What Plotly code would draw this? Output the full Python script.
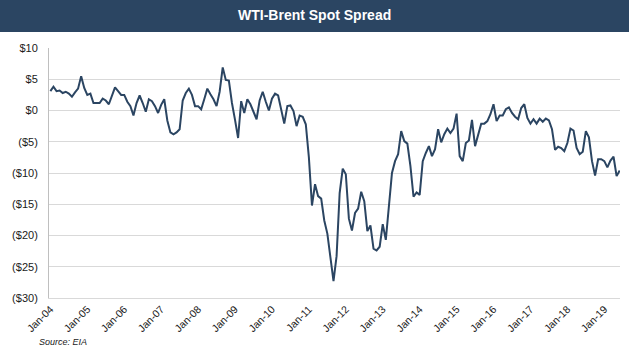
import plotly.graph_objects as go

# Monthly WTI-Brent spot spread ($/bbl), Jan-2004 .. Jun-2019
spread_2004 = [3.1, 3.8, 3.1, 3.2, 2.8, 3.0, 2.7, 2.2, 2.9, 3.5, 5.5, 3.6]
spread_2005 = [2.5, 2.7, 1.2, 1.2, 1.2, 1.9, 1.6, 1.0, 2.5, 3.7, 3.1, 2.5]
spread_2006 = [2.5, 1.4, 0.7, -0.8, 1.2, 2.4, 1.2, -0.2, 1.8, 1.5, 0.7, -0.4]
spread_2007 = [0.9, 1.8, -1.6, -3.5, -3.8, -3.5, -3.0, 1.6, 2.8, 3.5, 2.5, 0.7]
spread_2008 = [0.7, 0.2, 1.8, 3.5, 2.6, 1.8, 0.7, 3.0, 6.9, 4.9, 4.8, 1.2]
spread_2009 = [-1.5, -4.4, 1.5, -0.4, 1.8, 1.0, -0.2, -1.4, 1.6, 3.0, 1.4, 0.0]
spread_2010 = [1.9, 2.7, 2.4, 0.2, -2.1, 0.7, 0.8, -0.1, -2.5, -0.8, -1.0, -2.2]
spread_2011 = [-7.5, -15.2, -11.8, -13.7, -14.1, -17.6, -19.7, -23.5, -27.3, -23.3, -13.2, -9.3]
spread_2012 = [-10.2, -17.3, -19.2, -16.4, -15.7, -13.0, -14.5, -19.3, -18.4, -22.1, -22.4, -21.8]
spread_2013 = [-18.2, -20.7, -15.5, -10.0, -8.1, -7.0, -3.3, -4.9, -5.3, -8.9, -13.8, -13.1]
spread_2014 = [-13.5, -8.1, -6.8, -5.7, -7.3, -6.2, -3.0, -5.1, -3.8, -2.9, -3.6, -2.9]
spread_2015 = [-0.5, -7.3, -8.1, -5.2, -4.8, -1.5, -5.7, -4.1, -2.1, -2.1, -1.7, -0.6]
spread_2016 = [1.0, -1.7, -0.8, -0.8, 0.2, 0.5, -0.4, -1.0, -1.4, 0.4, 1.0, -1.2]
spread_2017 = [-2.1, -1.4, -2.1, -1.3, -1.8, -1.3, -1.6, -3.0, -6.3, -5.8, -6.0, -6.5]
spread_2018 = [-5.2, -2.9, -3.2, -6.0, -7.0, -6.6, -3.3, -4.3, -8.1, -10.4, -7.8, -7.8]
spread_2019 = [-8.1, -9.1, -8.0, -7.4, -10.5, -9.6]

years = list(range(2004, 2020))
yearly = [spread_2004, spread_2005, spread_2006, spread_2007, spread_2008, spread_2009,
          spread_2010, spread_2011, spread_2012, spread_2013, spread_2014, spread_2015,
          spread_2016, spread_2017, spread_2018, spread_2019]

month_names = ["Jan", "Feb", "Mar", "Apr", "May", "Jun",
               "Jul", "Aug", "Sep", "Oct", "Nov", "Dec"]
categories = []
values = []
for yr, vals in zip(years, yearly):
    for m, v in enumerate(vals):
        categories.append(f"{month_names[m]}-{str(yr)[2:]}")
        values.append(v)

x_idx = list(range(len(values)))
tick_labels = [f"Jan-{str(y)[2:]}" for y in years]
tick_positions = [categories.index(t) for t in tick_labels]

y_tick_vals = [10, 5, 0, -5, -10, -15, -20, -25, -30]
y_tick_text = ["$10", "$5", "$0", "($5)", "($10)", "($15)", "($20)", "($25)", "($30)"]

navy = "#2B4562"
grid = "#D9D9D9"

fig = go.Figure()
fig.add_trace(go.Scatter(
    x=x_idx, y=values, mode="lines",
    line=dict(color=navy, width=2),
    customdata=categories,
    hovertemplate="%{customdata}: %{y}<extra></extra>",
    showlegend=False,
))

W, H = 629, 361
L, R, T, B = 49, 9, 48, 63
pw, ph = W - L - R, H - T - B

fig.update_layout(
    width=W, height=H,
    margin=dict(l=L, r=R, t=T, b=B, pad=0),
    paper_bgcolor="white", plot_bgcolor="white",
    font=dict(family="Liberation Sans, Arial, sans-serif", size=11, color="#1a1a1a"),
    xaxis=dict(
        range=[-0.45, len(values) - 0.9],
        tickmode="array", tickvals=tick_positions, ticktext=tick_labels,
        tickangle=-45, tickfont=dict(size=10.5),
        showgrid=False, showline=True, linecolor=grid, linewidth=1,
        ticks="", zeroline=False,
    ),
    yaxis=dict(
        range=[-30, 10],
        tickmode="array", tickvals=y_tick_vals, ticktext=y_tick_text,
        tickfont=dict(size=11),
        showgrid=True, gridcolor=grid, gridwidth=1,
        showline=True, linecolor="#BFBFBF", linewidth=1,
        zeroline=False, ticks="", ticklabelstandoff=8,
    ),
    shapes=[dict(
        type="rect", xref="paper", yref="paper",
        x0=-L / pw, x1=1 + R / pw,
        y0=1 + (T - 32) / ph, y1=1 + T / ph,
        fillcolor=navy, line=dict(width=0), layer="above",
    )],
    annotations=[
        dict(text="<b>WTI-Brent Spot Spread</b>", xref="paper", yref="paper",
             x=(W / 2 - L) / pw, y=1 + (T - 15) / ph, xanchor="center", yanchor="middle",
             showarrow=False, font=dict(size=14, color="white",
                                        family="Liberation Sans, Arial, sans-serif")),
        dict(text="<i>Source: EIA</i>", xref="paper", yref="paper",
             x=(37 - L) / pw, y=-(342 - (T + ph)) / ph, xanchor="left", yanchor="middle",
             showarrow=False, font=dict(size=9, color="#1a1a1a")),
    ],
)

fig.write_html(
    "out.html",
    config={"displayModeBar": False},
    post_script="document.body.style.margin='0';document.body.style.padding='0';",
)
